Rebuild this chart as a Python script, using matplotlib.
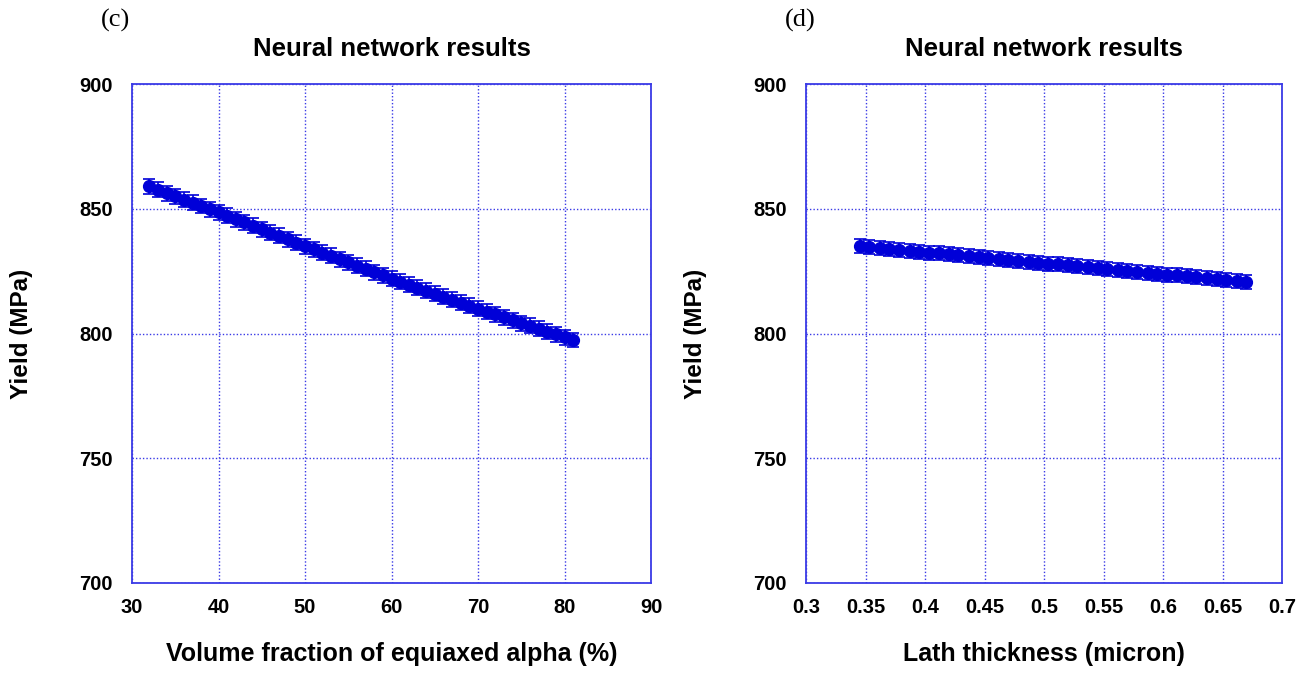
import matplotlib
matplotlib.use("Agg")
import matplotlib.pyplot as plt

# Panel (c): yield vs volume fraction of equiaxed alpha
vf_alpha = [32, 33, 34, 35, 36, 37, 38, 39, 40, 41, 42, 43, 44, 45, 46, 47, 48, 49,
            50, 51, 52, 53, 54, 55, 56, 57, 58, 59, 60, 61, 62, 63, 64, 65, 66, 67,
            68, 69, 70, 71, 72, 73, 74, 75, 76, 77, 78, 79, 80, 81]
yield_c = [859.0, 857.7, 856.3, 855.0, 853.7, 852.4, 851.1, 849.8, 848.5, 847.2,
           845.8, 844.5, 843.1, 841.8, 840.4, 839.1, 837.7, 836.4, 835.0, 833.7,
           832.4, 831.1, 829.8, 828.5, 827.2, 825.9, 824.6, 823.3, 822.0, 820.8,
           819.6, 818.4, 817.2, 816.0, 814.8, 813.6, 812.4, 811.2, 810.0, 808.8,
           807.7, 806.5, 805.4, 804.2, 803.1, 801.9, 800.8, 799.6, 798.5, 797.4]
err_c = [3.0] * len(yield_c)

# Panel (d): yield vs lath thickness
lath = [0.345, 0.353, 0.362, 0.370, 0.378, 0.387, 0.395, 0.403, 0.412, 0.420,
        0.428, 0.437, 0.445, 0.453, 0.462, 0.470, 0.478, 0.487, 0.495, 0.503,
        0.512, 0.520, 0.528, 0.537, 0.545, 0.553, 0.562, 0.570, 0.578, 0.587,
        0.595, 0.603, 0.612, 0.620, 0.628, 0.637, 0.645, 0.653, 0.662, 0.670]
yield_d = [835.0, 834.6, 834.3, 833.9, 833.5, 833.2, 832.8, 832.4, 832.1, 831.7,
           831.3, 831.0, 830.6, 830.2, 829.9, 829.5, 829.1, 828.8, 828.4, 828.0,
           827.7, 827.3, 826.9, 826.6, 826.2, 825.8, 825.5, 825.1, 824.7, 824.4,
           824.0, 823.6, 823.3, 822.9, 822.5, 822.2, 821.8, 821.4, 821.1, 820.7]
err_d = [2.8] * len(yield_d)

title = "Neural network results"
ylabel = "Yield (MPa)"
xlabel_c = "Volume fraction of equiaxed alpha (%)"
xlabel_d = "Lath thickness (micron)"
xticks_c = [30, 40, 50, 60, 70, 80, 90]
xticks_d = [0.3, 0.35, 0.4, 0.45, 0.5, 0.55, 0.6, 0.65, 0.7]
yticks = [700, 750, 800, 850, 900]

plt.rcParams['font.family'] = ['Liberation Sans', 'DejaVu Sans']

W, H = 1298, 674
fig = plt.figure(figsize=(W / 100, H / 100), dpi=100)

MARK = '#0000d8'
SPINE = '#3a3ae6'
GRID = '#3a3ae6'


def px_axes(x0, x1, y0, y1):
    return fig.add_axes([x0 / W, 1 - y1 / H, (x1 - x0) / W, (y1 - y0) / H])


def style(ax, xticks, xlabels, xlabel):
    ax.set_ylim(700, 900)
    ax.set_xlim(xticks[0], xticks[-1])
    ax.set_xticks(xticks)
    ax.set_xticklabels(xlabels)
    ax.set_yticks(yticks)
    ax.grid(True, linestyle=(0, (1, 1.5)), color=GRID, linewidth=1.0)
    ax.set_axisbelow(True)
    for s in ax.spines.values():
        s.set_color(SPINE)
        s.set_linewidth(1.3)
    ax.tick_params(axis='x', length=0, labelsize=14.5, pad=11)
    ax.tick_params(axis='y', length=0, labelsize=14.5, pad=14)
    for lab in ax.get_xticklabels() + ax.get_yticklabels():
        lab.set_fontweight('bold')
    ax.set_title(title, fontsize=18.5, fontweight='bold', pad=20)
    ax.set_xlabel(xlabel, fontsize=18, fontweight='bold', labelpad=18)
    ax.set_ylabel(ylabel, fontsize=17.5, fontweight='bold', labelpad=33)


ax1 = px_axes(132, 651, 84, 583)
ax1.errorbar(vf_alpha, yield_c, yerr=err_c, fmt='-o', color=MARK, ecolor=MARK,
             markersize=8.5, linewidth=2, elinewidth=1.2, capsize=4, capthick=1.2)
style(ax1, xticks_c, [str(t) for t in xticks_c], xlabel_c)

ax2 = px_axes(806, 1282, 84, 583)
ax2.errorbar(lath, yield_d, yerr=err_d, fmt='-o', color=MARK, ecolor=MARK,
             markersize=8.5, linewidth=2, elinewidth=1.2, capsize=4, capthick=1.2)
style(ax2, xticks_d, [f"{t:g}" for t in xticks_d], xlabel_d)

fig.text(115 / W, 1 - 20 / H, "(c)", fontsize=19, family='Liberation Serif',
         ha='center', va='center')
fig.text(800 / W, 1 - 20 / H, "(d)", fontsize=19, family='Liberation Serif',
         ha='center', va='center')

fig.savefig("out.png", dpi=100)
